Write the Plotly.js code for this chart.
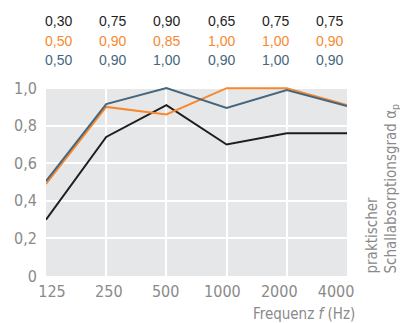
<!DOCTYPE html>
<html>
<head>
<meta charset="utf-8">
<script src="https://cdn.plot.ly/plotly-3.0.1.min.js"></script>
<style>html,body{margin:0;padding:0;background:#fff;}#chart{width:400px;height:323px;}</style>
</head>
<body>
<div id="chart"></div>
<script>
// Frequencies (Hz)
var freqs = [125, 250, 500, 1000, 2000, 4000];
var freqLabels = ['125', '250', '500', '1000', '2000', '4000'];
// Plotted curves
var seriesBlack = [0.30, 0.74, 0.91, 0.70, 0.76, 0.76];
var seriesOrange = [0.49, 0.90, 0.86, 1.00, 1.00, 0.91];
var seriesBlue = [0.505, 0.915, 1.00, 0.895, 0.99, 0.905];
// Table values printed above the chart
var tableBlack = ['0,30', '0,75', '0,90', '0,65', '0,75', '0,75'];
var tableOrange = ['0,50', '0,90', '0,85', '1,00', '1,00', '0,90'];
var tableBlue = ['0,50', '0,90', '1,00', '0,90', '1,00', '0,90'];
// Y ticks
var yTickVals = [0, 0.2, 0.4, 0.6, 0.8, 1.0];
var yTickText = ['0', '0,2', '0,4', '0,6', '0,8', '1,0'];

var cBlack = '#1e1e1e', cOrange = '#f7882f', cBlue = '#46667c';
var narrow = 'DejaVu Sans Condensed, Liberation Sans Narrow, sans-serif';
var regular = 'Liberation Sans, Arial, sans-serif';
var grey = '#8a8a8a';

function line(y, color) {
  return {x: freqs, y: y, type: 'scatter', mode: 'lines',
    line: {color: color, width: 2}, hoverinfo: 'skip', showlegend: false};
}
var traces = [line(seriesBlack, cBlack), line(seriesOrange, cOrange), line(seriesBlue, cBlue),
  {x: freqs.map(function(_, i){return i;}), y: seriesBlack, xaxis: 'x2', type: 'scatter',
   mode: 'none', hoverinfo: 'skip', showlegend: false}];

var L = 46, W = 301, B = 276.5, H = 189;
function px(x) { return (x - L) / W; }
function py(y) { return (B - y) / H; }
var annotations = [];
var rows = [[tableBlack, cBlack], [tableOrange, cOrange], [tableBlue, cBlue]];
rows.forEach(function(r, ri) {
  r[0].forEach(function(t, i) {
    annotations.push({text: t, xref: 'paper', yref: 'paper',
      x: px(58.5 + 54.2 * i), xanchor: 'center',
      y: py(21.5 + 19.5 * ri), yanchor: 'middle',
      showarrow: false, font: {family: regular, size: 14, color: r[1]}});
  });
});
annotations.push({text: 'Frequenz <i>f</i> (Hz)', xref: 'paper', yref: 'paper',
  x: px(357), xanchor: 'right', y: py(314), yanchor: 'middle',
  showarrow: false, font: {family: narrow, size: 15, color: grey}});
annotations.push({text: 'praktischer<br>Schallabsorptionsgrad α<sub>p</sub>', xref: 'paper', yref: 'paper',
  x: px(360), xanchor: 'left', y: 0, yanchor: 'bottom', textangle: -90, align: 'left',
  showarrow: false, font: {family: narrow, size: 15, color: grey}});

var layout = {
  width: 400, height: 323,
  margin: {l: 46, r: 53, t: 87, b: 47, pad: 0},
  paper_bgcolor: '#ffffff', plot_bgcolor: '#e6e7e8',
  showlegend: false,
  xaxis: {type: 'log', range: [Math.log10(125), Math.log10(4000)], tickvals: freqs,
    showticklabels: false, showgrid: true, gridcolor: '#ffffff', gridwidth: 2,
    zeroline: false, showline: false, ticks: '', fixedrange: true},
  xaxis2: {overlaying: 'x', anchor: 'y', side: 'bottom', range: [-0.106, 5.193],
    tickvals: [0, 1, 2, 3, 4, 5], ticktext: freqLabels, showgrid: false, zeroline: false,
    showline: false, ticks: '', ticklabelstandoff: 4,
    tickfont: {family: narrow, size: 16, color: grey}},
  yaxis: {range: [0, 1.006], tickvals: yTickVals, ticktext: yTickText,
    showgrid: true, gridcolor: '#ffffff', gridwidth: 2, zeroline: false, showline: false,
    ticks: '', ticklabelstandoff: 8, tickfont: {family: narrow, size: 16, color: grey}},
  annotations: annotations
};
Plotly.newPlot('chart', traces, layout, {displayModeBar: false, staticPlot: true});
</script>
</body>
</html>
